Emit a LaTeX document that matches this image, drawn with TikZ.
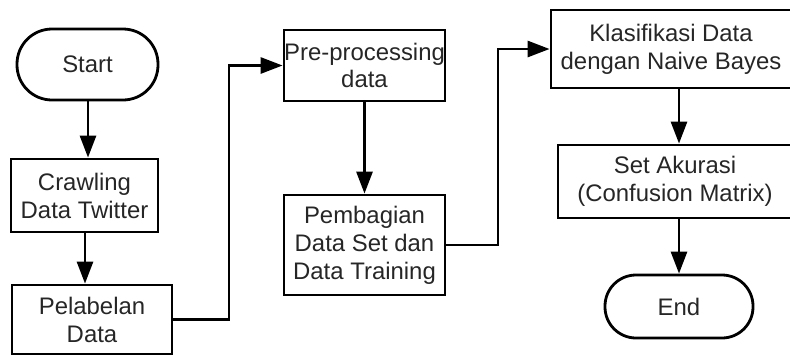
\documentclass[tikz,border=0pt]{standalone}
\usepackage{fontspec}
\setmainfont{Liberation Sans}
\usetikzlibrary{arrows.meta}
\begin{document}
\begin{tikzpicture}[x=1bp,y=-1bp,
  box/.style={draw=black,line width=2.8bp,fill=white,inner sep=0pt,align=center,
    font=\fontsize{24}{28}\selectfont,text=black!85},
  flow/.style={line width=2.8bp,-{Triangle[length=22bp,width=16bp]}}]
\path[clip] (0,0) rectangle (790,356);
\fill[white] (0,0) rectangle (790,356);
% left column
\node[box,rounded corners=35bp,minimum width=141bp,minimum height=71bp] (start) at (87.5,64.5) {Start};
\node[box,minimum width=147bp,minimum height=73bp] (crawl) at (84.5,195.5) {Crawling\\Data Twitter};
\node[box,minimum width=160bp,minimum height=69bp] (label) at (92,319.5) {Pelabelan\\Data};
% middle column
\node[box,minimum width=161bp,minimum height=71bp] (pre) at (364.5,65.5) {Pre-processing\\data};
\node[box,minimum width=161bp,minimum height=100bp] (split) at (364.5,245) {Pembagian\\Data Set dan\\Data Training};
% right column
\node[box,minimum width=240bp,minimum height=78bp] (nb) at (671,49) {Klasifikasi Data\\dengan Naive Bayes};
\node[box,minimum width=234bp,minimum height=73bp] (acc) at (675,181.5) {Set Akurasi\\(Confusion Matrix)};
\node[box,rounded corners=31bp,minimum width=148bp,minimum height=63bp] (end) at (679,306.5) {End};
% connectors
\coordinate (s1) at (88,0);
\coordinate (c1) at (85,0);
\coordinate (a1) at (679,0);
\coordinate (j1) at (229,0);
\coordinate (j2) at (498,0);
\draw[flow] (s1 |- start.south) -- (s1 |- crawl.north);
\draw[flow] (c1 |- crawl.south) -- (c1 |- label.north);
\draw[flow] (label.east) -- (j1 |- label.east) |- (pre.west);
\draw[flow] (pre.south) -- (split.north);
\draw[flow] (split.east) -- (j2 |- split.east) |- (nb.west);
\draw[flow] (a1 |- nb.south) -- (a1 |- acc.north);
\draw[flow] (a1 |- acc.south) -- (a1 |- end.north);
\end{tikzpicture}
\end{document}
